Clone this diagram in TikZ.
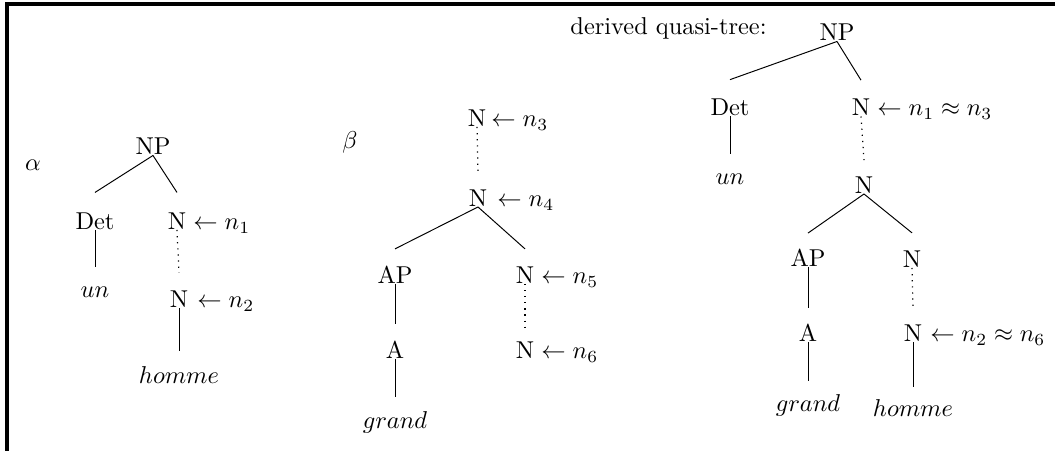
\documentclass[tikz,border=0pt]{standalone}
\begin{document}
\begin{tikzpicture}[x=0.41pt,y=-0.41pt,
  tn/.style={inner sep=0pt,text height=7pt,text depth=0pt,anchor=base},
  ann/.style={inner sep=0pt,anchor=base west},
  lbl/.style={inner sep=0pt,anchor=center},
  edge/.style={line width=0.4pt},
  dom/.style={line width=0.5pt,dotted},
  frame/.style={line width=1.3pt}]
\useasboundingbox (0,0) rectangle (1055,451);
% partial frame
\coordinate (fa) at (7,451);
\coordinate (fb) at (7,4);
\coordinate (fc) at (1055,4);
\draw[frame] (fa) -- (fb) -- (fc);

% alpha tree
\node[lbl] (alpha) at (33,165) {$\alpha$};
\node[tn] (anp) at (153,155) {NP};
\node[tn] (adet) at (95,229.5) {Det};
\node[tn] (an1) at (177,229.5) {N};
\node[ann] (aa1) at (193,229.5) {$\leftarrow n_1$};
\node[tn] (aun) at (95,298) {$un$};
\node[tn] (an2) at (179,307.5) {N};
\node[ann] (aa2) at (197,307.5) {$\leftarrow n_2$};
\node[tn] (ahomme) at (179,383.5) {$homme$};
\draw[edge] (anp.south) -- ([yshift=8pt]adet.north);
\draw[edge] (anp.south) -- ([yshift=8pt]an1.north);
\draw[edge] (adet.south) -- ([yshift=5.5pt]aun.north);
\draw[dom] (an1.south) -- ([yshift=7pt]an2.north);
\draw[edge] (an2.south) -- ([yshift=6pt]ahomme.north);

% beta tree
\node[lbl] (beta) at (350,142) {$\beta$};
\node[tn] (bn3) at (477,126.5) {N};
\node[ann] (ba3) at (491,126.5) {$\leftarrow n_3$};
\node[tn] (bn4) at (478,206.5) {N};
\node[ann] (ba4) at (497,206.5) {$\leftarrow n_4$};
\node[tn] (bap) at (395,283.5) {AP};
\node[tn] (bn5) at (525,283.5) {N};
\node[ann] (ba5) at (541,283.5) {$\leftarrow n_5$};
\node[tn] (ba) at (395,358.5) {A};
\node[tn] (bn6) at (525,358.5) {N};
\node[ann] (ba6) at (541,358.5) {$\leftarrow n_6$};
\node[tn] (bgrand) at (395,428) {$grand$};
\draw[dom] (bn3.south) -- ([yshift=7pt]bn4.north);
\draw[edge] (bn4.south) -- ([yshift=7pt]bap.north);
\draw[edge] (bn4.south) -- ([yshift=7pt]bn5.north);
\draw[edge] (bap.south) -- ([yshift=7pt]ba.north);
\draw[dom] (bn5.south) -- ([yshift=5.5pt]bn6.north);
\draw[edge] (ba.south) -- ([yshift=5.5pt]bgrand.north);

% derived quasi-tree
\node[ann] (dlabel) at (570,34.5) {derived quasi-tree:};
\node[tn] (dnp) at (837,41) {NP};
\node[tn] (ddet) at (730,115.5) {Det};
\node[tn] (dn1) at (861,116) {N};
\node[ann] (da1) at (877,116) {$\leftarrow n_1 \approx n_3$};
\node[tn] (dun) at (730,185) {$un$};
\node[tn] (dnm) at (864,193.5) {N};
\node[tn] (dap) at (808,266.5) {AP};
\node[tn] (dnr) at (912,267.5) {N};
\node[tn] (da) at (808,341.5) {A};
\node[tn] (dnb) at (913,341.5) {N};
\node[ann] (da2) at (930,341.5) {$\leftarrow n_2 \approx n_6$};
\node[tn] (dgrand) at (808,411) {$grand$};
\node[tn] (dhomme) at (913,416.5) {$homme$};
\draw[edge] (dnp.south) -- ([yshift=7.5pt]ddet.north);
\draw[edge] (dnp.south) -- ([yshift=7.5pt]dn1.north);
\draw[edge] (ddet.south) -- ([yshift=5.5pt]dun.north);
\draw[dom] (dn1.south) -- ([yshift=6.5pt]dnm.north);
\draw[edge] (dnm.south) -- ([yshift=6.5pt]dap.north);
\draw[edge] (dnm.south) -- ([yshift=7pt]dnr.north);
\draw[edge] (dap.south) -- ([yshift=6.5pt]da.north);
\draw[dom] (dnr.south) -- ([yshift=6.5pt]dnb.north);
\draw[edge] (da.south) -- ([yshift=5pt]dgrand.north);
\draw[edge] (dnb.south) -- ([yshift=5pt]dhomme.north);
\end{tikzpicture}
\end{document}
